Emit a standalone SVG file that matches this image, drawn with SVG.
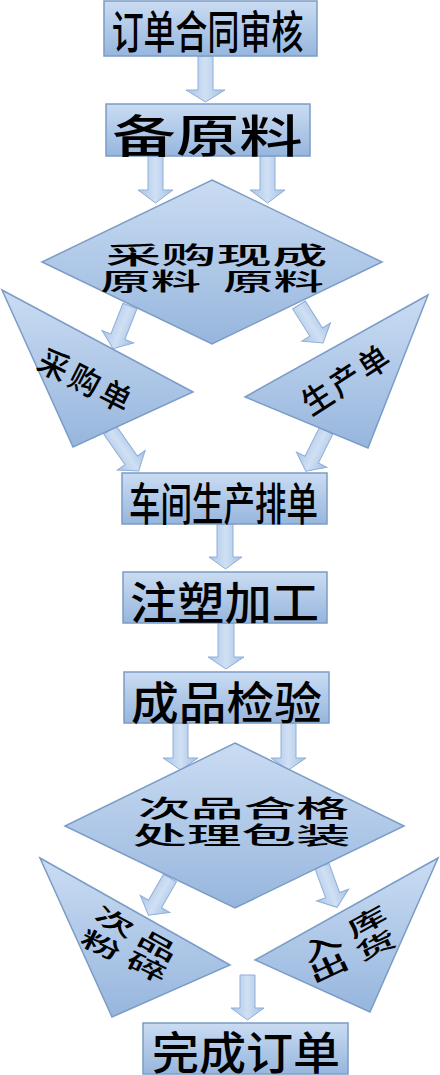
<svg xmlns="http://www.w3.org/2000/svg" width="440" height="1075" viewBox="0 0 440 1075">
<defs>
<linearGradient id="gN" x1="0" y1="0" x2="0" y2="1">
<stop offset="0" stop-color="#cadcf2"/>
<stop offset="0.5" stop-color="#b0c9e8"/>
<stop offset="1" stop-color="#97b6dd"/>
</linearGradient>
<linearGradient id="gA" x1="0" y1="0" x2="1" y2="0">
<stop offset="0" stop-color="#a9c4e6"/>
<stop offset="0.5" stop-color="#d0e0f4"/>
<stop offset="1" stop-color="#a3bfe3"/>
</linearGradient>
</defs>
<style>
.n{fill:url(#gN);stroke:#7b9cc6;stroke-width:1.5}
.a{fill:url(#gA);stroke:#8eaed8;stroke-width:1}
.t{font-family:"Noto Sans CJK SC","Noto Sans CJK JP",sans-serif;font-weight:500;fill:#000;text-anchor:middle;dominant-baseline:central}
.big{font-size:45px}
.mid{font-size:24px}
.tri{font-size:32px}
.tr2{font-size:26px}
</style>
<g id="connectors">
<path class="a" d="M198,56 H213 V90 H225 L205.5,102 L186,90 H198 Z"/>
<path class="a" d="M148,156 H163 V190 H173 L155.5,203 L138,190 H148 Z"/>
<path class="a" d="M260,156 H275 V190 H285 L267.5,203 L250,190 H260 Z"/>
<path class="a" transform="translate(130,306) rotate(21.6)" d="M-7.5,0 H7.5 V33 H17 L0,46 L-17,33 H-7.5 Z"/>
<path class="a" transform="translate(299,305) rotate(-32.3)" d="M-7.5,0 H7.5 V32 H17 L0,45 L-17,32 H-7.5 Z"/>
<path class="a" transform="translate(110,430) rotate(-35)" d="M-7.5,0 H7.5 V37 H17 L0,50 L-17,37 H-7.5 Z"/>
<path class="a" transform="translate(326,431) rotate(26.6)" d="M-7.5,0 H7.5 V32 H17 L0,45 L-17,32 H-7.5 Z"/>
<path class="a" d="M217,524 H233 V557 H242 L225.5,569 L209,557 H217 Z"/>
<path class="a" d="M218,623 H234 V657 H244 L226,669 L208,657 H218 Z"/>
<path class="a" d="M173,723 H188 V758 H198 L180.5,770 L163,758 H173 Z"/>
<path class="a" d="M281,723 H296 V758 H306 L288.5,770 L271,758 H281 Z"/>
<path class="a" transform="translate(170,878) rotate(30)" d="M-7.5,0 H7.5 V30 H17 L0,43 L-17,30 H-7.5 Z"/>
<path class="a" transform="translate(322,866) rotate(-20)" d="M-7.5,0 H7.5 V31 H17 L0,44 L-17,31 H-7.5 Z"/>
<path class="a" d="M240,975 H255 V1008 H264 L247.5,1020 L231,1008 H240 Z"/>
</g>
<g id="n1"><rect class="n" x="104" y="1" width="213" height="55"/>
<text class="t big" transform="translate(207.5,29) scale(0.71,1)">订单合同审核</text></g>
<g id="n2"><rect class="n" x="106" y="104" width="204" height="52"/>
<text class="t big" transform="translate(207.5,133.5) scale(1.41,1)">备原料</text></g>
<g id="n3"><polygon class="n" points="212,180 382,262 212,344 42,262"/>
<text class="t mid" transform="translate(216.5,253.5) scale(2.31,1)">采购现成</text>
<text class="t mid" transform="translate(0,279.5) scale(2.1,1)"><tspan x="74.5">原料</tspan> <tspan x="130.2">原料</tspan></text></g>
<g id="n4"><polygon class="n" points="2,290 193,392 73,447"/>
<text class="t tri" transform="translate(86,378) rotate(27) scale(0.95,1)"><tspan x="-36.5">采</tspan><tspan x="0">购</tspan><tspan x="36.5">单</tspan></text></g>
<g id="n5"><polygon class="n" points="428,295 245,397 368,448"/>
<text class="t tri" transform="translate(344,378) rotate(-33) scale(0.95,1)"><tspan x="-35.3">生</tspan><tspan x="0">产</tspan><tspan x="35.3">单</tspan></text></g>
<g id="n6"><rect class="n" x="122" y="473" width="205" height="51"/>
<text class="t big" transform="translate(223.5,501) scale(0.70,1)">车间生产排单</text></g>
<g id="n7"><rect class="n" x="123" y="572" width="204" height="51"/>
<text class="t big" transform="translate(224.5,600) scale(1.05,1)">注塑加工</text></g>
<g id="n8"><rect class="n" x="124" y="672" width="205" height="51"/>
<text class="t big" transform="translate(226.5,700) scale(1.06,1)">成品检验</text></g>
<g id="n9"><polygon class="n" points="235,743 404,826 235,908 65,826"/>
<text class="t mid" transform="translate(243.5,806.5) scale(2.2,1)">次品合格</text>
<text class="t mid" transform="translate(241.5,833) scale(2.27,1)">处理包装</text></g>
<g id="n10"><polygon class="n" points="40,858 230,965 112,1017"/>
<text class="t tr2" transform="translate(137,932) rotate(29) scale(1.6,0.88)"><tspan x="-15.3">次</tspan><tspan x="15.3">品</tspan></text>
<text class="t tr2" transform="translate(124.5,954.5) rotate(26) scale(1.6,0.88)"><tspan x="-15.9">粉</tspan><tspan x="15.9">碎</tspan></text></g>
<g id="n11"><polygon class="n" points="438,858 255,960 370,1012"/>
<text class="t tr2" transform="translate(343,932.5) rotate(-28.5) scale(1.6,0.88)"><tspan x="-16.25">入</tspan><tspan x="16.25">库</tspan></text>
<text class="t tr2" transform="translate(351.5,955) rotate(-25) scale(1.6,0.88)"><tspan x="-16.25">出</tspan><tspan x="16.25">货</tspan></text></g>
<g id="n12"><rect class="n" x="143" y="1023" width="205" height="51"/>
<text class="t big" transform="translate(246,1050) scale(1.045,1)">完成订单</text></g>
</svg>
